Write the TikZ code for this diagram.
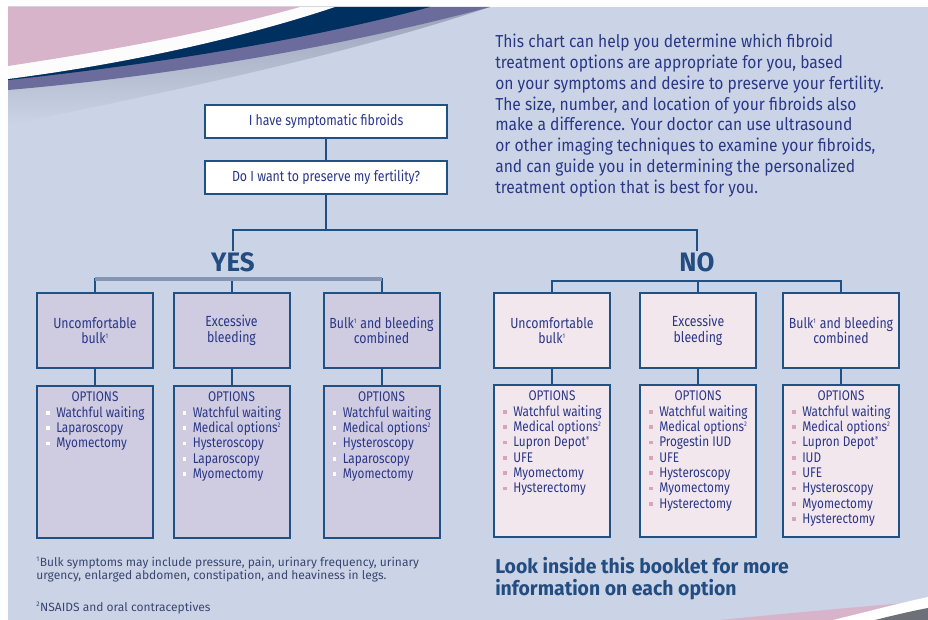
\documentclass[tikz,border=0pt]{standalone}
\usepackage{fontspec}
\setmainfont{Fira Sans}[FakeStretch=0.84]
\newfontfamily\headfont{Fira Sans}[FakeStretch=0.97]
\newfontfamily\notefont{Fira Sans}[FakeStretch=1.0]
\newfontfamily\introfont{Fira Sans}[FakeStretch=0.9]
\usetikzlibrary{positioning}

\definecolor{bgblue}{HTML}{CBD4E6}
\definecolor{pinkdeco}{HTML}{D8B4CA}
\definecolor{navydeco}{HTML}{00305F}
\definecolor{purpledeco}{HTML}{6C6C9C}
\definecolor{shadegrey}{HTML}{9AA2B8}
\definecolor{cornergrey}{HTML}{6E7078}
\definecolor{linenavy}{HTML}{1E5287}
\definecolor{barblue}{HTML}{8596B5}
\definecolor{textblue}{HTML}{2A3787}
\definecolor{headblue}{HTML}{234C80}
\definecolor{notegrey}{HTML}{3A4670}
\definecolor{yesfill}{HTML}{CFCBE0}
\definecolor{nofill}{HTML}{F3E7EE}
\definecolor{nobullet}{HTML}{D8A3BD}

\newcommand{\ybul}{\textcolor{white}{\rule[0.3ex]{0.5ex}{0.5ex}}\hspace{0.45em}}
\newcommand{\nbul}{\textcolor{nobullet}{\rule[0.3ex]{0.5ex}{0.5ex}}\hspace{0.45em}}
\newcommand{\fn}[1]{\textsuperscript{\fontsize{5}{5}\selectfont #1}}

\tikzset{
  conn/.style={draw=linenavy, line width=1.5pt},
  qbox/.style={draw=linenavy, line width=1.5pt, fill=white, minimum width=182pt, minimum height=25pt,
    text=textblue, font=\fontsize{11}{13}\selectfont},
  symbox/.style={draw=linenavy, line width=1.5pt, minimum width=87pt, minimum height=56pt,
    align=center, text=textblue, font=\fontsize{11}{11.5}\selectfont},
  optbox/.style={draw=linenavy, line width=1.5pt, minimum width=87pt, minimum height=114pt},
  opttitle/.style={anchor=north, inner sep=0pt, text=textblue, font=\fontsize{10.5}{11.5}\selectfont},
  optlist/.style={anchor=north west, inner sep=0pt, align=left, text=textblue, font=\fontsize{10.5}{11.5}\selectfont},
  answer/.style={text=headblue, font=\headfont\bfseries\fontsize{20}{22}\selectfont, inner sep=1pt}
}

\begin{document}
\begin{tikzpicture}[x=0.75pt, y=-0.75pt]
  \useasboundingbox (0,0) rectangle (928,620);
  % Background
  \fill[white] (0,0) rectangle (928,620);
  \fill[bgblue] (8,7) rectangle (928,620);
  % Top left swoosh
  \shade[top color=shadegrey, bottom color=bgblue] (8,85) .. controls (150,75) and (330,45) .. (490,7)
    .. controls (330,60) and (150,95) .. (8,125) -- cycle;
  \fill[purpledeco] (8,7) -- (490,7) .. controls (330,50) and (150,78) .. (8,90) -- cycle;
  \fill[navydeco] (8,7) -- (430,7) .. controls (300,42) and (140,66) .. (8,80) -- cycle;
  \fill[white!96!pinkdeco] (8,7) -- (335,7) .. controls (230,42) and (110,66) .. (8,79) -- cycle;
  \fill[pinkdeco] (8,7) -- (300,7) .. controls (200,35) and (100,52) .. (8,66) -- cycle;
  % Bottom right swoosh
  \fill[pinkdeco] (720,620) .. controls (800,612) and (880,605) .. (928,601) -- (928,620) -- cycle;
  \fill[white] (833,620) .. controls (870,611) and (900,603) .. (928,597) -- (928,620) -- cycle;
  \fill[cornergrey] (875,620) .. controls (895,615) and (912,611) .. (928,608) -- (928,620) -- cycle;

  % Intro text
  \node[anchor=north west, inner sep=0pt, align=left, text=textblue, font=\introfont\fontsize{13}{15.6}\selectfont] (intro) at (495,34)
    {This chart can help you determine which fibroid\\
     treatment options are appropriate for you, based\\
     on your symptoms and desire to preserve your fertility.\\
     The size, number, and location of your fibroids also\\
     make a difference. Your doctor can use ultrasound\\
     or other imaging techniques to examine your fibroids,\\
     and can guide you in determining the personalized\\
     treatment option that is best for you.};

  % Questions
  \node[qbox] (have) at (326,121.5) {I have symptomatic fibroids};
  \node[qbox] (keep) at (326,177.5) {Do I want to preserve my fertility?};
  \draw[conn] (have) -- (keep);

  \node[answer] (yes) at (233,262) {YES};
  \node[answer] (no) at (697,262) {NO};
  \coordinate (split) at (326,230);
  \draw[conn] (keep) -- (split);
  \draw[conn] (yes.north) |- (split) -| (no.north);

  % Yes branch
  \node[symbox, fill=yesfill] (sYA) at (95,330.5) {Uncomfortable\\bulk\fn{1}};
  \node[symbox, fill=yesfill] (sYB) at (231.5,330.5) {Excessive\\bleeding};
  \node[symbox, fill=yesfill] (sYC) at (381.5,330.5) {Bulk\fn{1} and bleeding\\combined};
  \coordinate (ybar) at (231.5,279);
  \draw[conn] (sYA.north) |- (ybar) -| (sYC.north);
  \draw[conn] (ybar) -- (sYB.north);
  \draw[barblue, line width=2.5pt] (sYA.north |- ybar) -- (sYC.north |- ybar);

  \node[optbox, fill=yesfill] (oYA) at (95,461.5) {};
  \node[optbox, fill=yesfill] (oYB) at (231.5,461.5) {};
  \node[optbox, fill=yesfill] (oYC) at (381.5,461.5) {};
  \draw[conn] (sYA) -- (oYA);
  \draw[conn] (sYB) -- (oYB);
  \draw[conn] (sYC) -- (oYC);

  \node[opttitle] (tYA) at ([yshift=-5pt]oYA.north) {OPTIONS};
  \node[opttitle] (tYB) at ([yshift=-5pt]oYB.north) {OPTIONS};
  \node[opttitle] (tYC) at ([yshift=-5pt]oYC.north) {OPTIONS};
  \node[optlist] (lYA) at ([xshift=7.5pt, yshift=-16pt]oYA.north west)
    {\ybul Watchful waiting\\\ybul Laparoscopy\\\ybul Myomectomy};
  \node[optlist] (lYB) at ([xshift=7.5pt, yshift=-16pt]oYB.north west)
    {\ybul Watchful waiting\\\ybul Medical options\fn{2}\\\ybul Hysteroscopy\\\ybul Laparoscopy\\\ybul Myomectomy};
  \node[optlist] (lYC) at ([xshift=7.5pt, yshift=-16pt]oYC.north west)
    {\ybul Watchful waiting\\\ybul Medical options\fn{2}\\\ybul Hysteroscopy\\\ybul Laparoscopy\\\ybul Myomectomy};

  % No branch
  \node[symbox, fill=nofill] (sNA) at (552,330.5) {Uncomfortable\\bulk\fn{1}};
  \node[symbox, fill=nofill] (sNB) at (698,330.5) {Excessive\\bleeding};
  \node[symbox, fill=nofill] (sNC) at (841,330.5) {Bulk\fn{1} and bleeding\\combined};
  \coordinate (nbar) at (698,281);
  \draw[conn] (sNA.north) |- (nbar) -| (sNC.north);
  \draw[conn] (nbar) -- (sNB.north);

  \node[optbox, fill=nofill] (oNA) at (552,460.5) {};
  \node[optbox, fill=nofill] (oNB) at (698,460.5) {};
  \node[optbox, fill=nofill] (oNC) at (841,460.5) {};
  \draw[conn] (sNA) -- (oNA);
  \draw[conn] (sNB) -- (oNB);
  \draw[conn] (sNC) -- (oNC);

  \node[opttitle] (tNA) at ([yshift=-5pt]oNA.north) {OPTIONS};
  \node[opttitle] (tNB) at ([yshift=-5pt]oNB.north) {OPTIONS};
  \node[opttitle] (tNC) at ([yshift=-5pt]oNC.north) {OPTIONS};
  \node[optlist] (lNA) at ([xshift=7.5pt, yshift=-16pt]oNA.north west)
    {\nbul Watchful waiting\\\nbul Medical options\fn{2}\\\nbul Lupron Depot\fn{\textregistered}\\\nbul UFE\\\nbul Myomectomy\\\nbul Hysterectomy};
  \node[optlist] (lNB) at ([xshift=7.5pt, yshift=-16pt]oNB.north west)
    {\nbul Watchful waiting\\\nbul Medical options\fn{2}\\\nbul Progestin IUD\\\nbul UFE\\\nbul Hysteroscopy\\\nbul Myomectomy\\\nbul Hysterectomy};
  \node[optlist] (lNC) at ([xshift=7.5pt, yshift=-16pt]oNC.north west)
    {\nbul Watchful waiting\\\nbul Medical options\fn{2}\\\nbul Lupron Depot\fn{\textregistered}\\\nbul IUD\\\nbul UFE\\\nbul Hysteroscopy\\\nbul Myomectomy\\\nbul Hysterectomy};

  % Notes
  \node[anchor=north west, inner sep=0pt, align=left, text=notegrey, font=\notefont\fontsize{9}{9.3}\selectfont] (notes) at (36,557)
    {\fn{1}Bulk symptoms may include pressure, pain, urinary frequency, urinary\\
     urgency, enlarged abdomen, constipation, and heaviness in legs.\\[15pt]
     \fn{2}NSAIDS and oral contraceptives};
  \node[anchor=north west, inner sep=0pt, align=left, text=headblue, font=\headfont\bfseries\fontsize{15}{16.5}\selectfont] (look) at (495,557)
    {Look inside this booklet for more\\information on each option};
\end{tikzpicture}
\end{document}
